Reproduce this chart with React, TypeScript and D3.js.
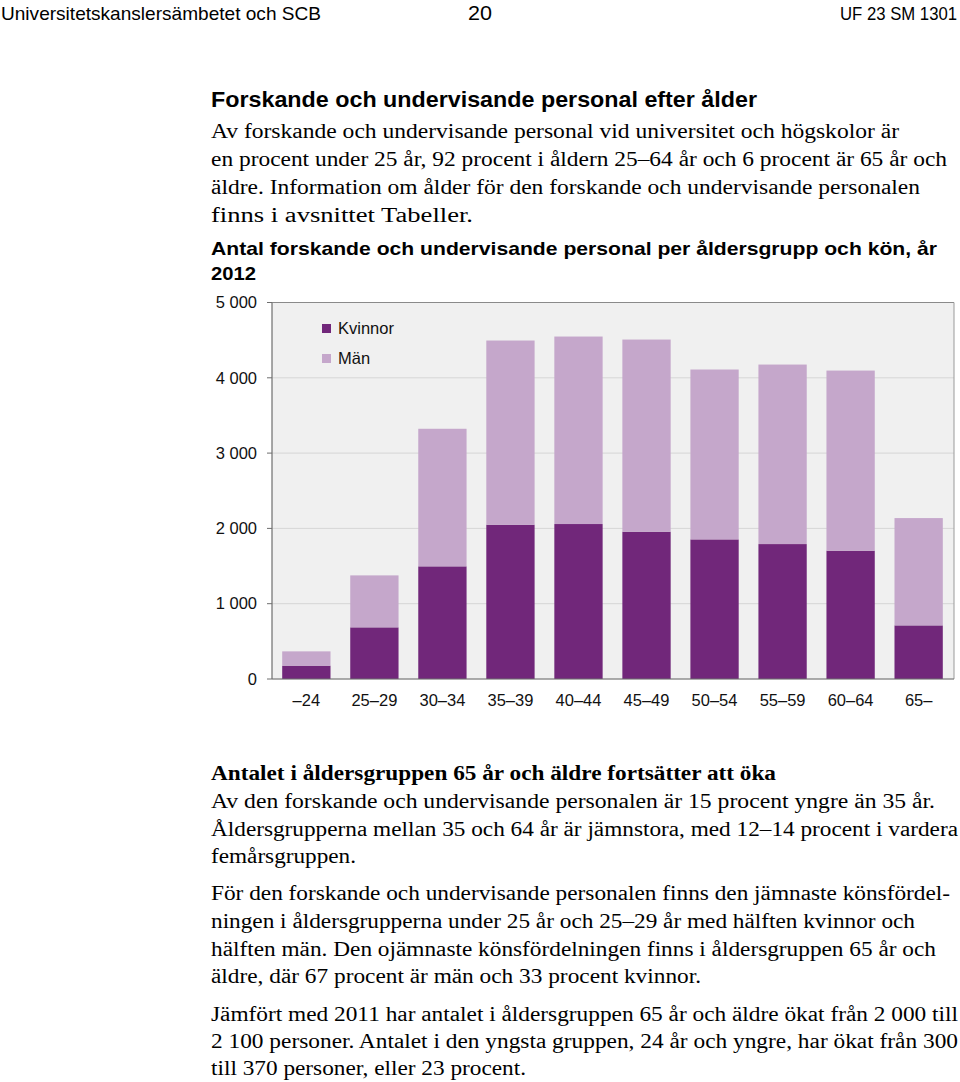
import React from "react";
import * as d3 from "d3";

const categories = ["–24", "25–29", "30–34", "35–39", "40–44", "45–49", "50–54", "55–59", "60–64", "65–"];
const kvinnor = [177, 686, 1496, 2049, 2058, 1956, 1854, 1792, 1704, 712];
const man = [190, 690, 1827, 2446, 2490, 2552, 2256, 2384, 2392, 1425];
const yTicks = [0, 1000, 2000, 3000, 4000, 5000];
const seriesNames = ["Kvinnor", "Män"];
const seriesColors = ["#71277a", "#c5a7cb"];

const W = 960;
const H = 1082;
const plot = { left: 272, right: 954, top: 302.5, bottom: 679 };

const serif = "'Liberation Serif', 'Times New Roman', serif";
const sans = "'Liberation Sans', Arial, sans-serif";

type Line = { t: string; y: number; w?: number };

const topBody: Line[] = [
  { t: "Av forskande och undervisande personal vid universitet och högskolor är", y: 138, w: 688 },
  { t: "en procent under 25 år, 92 procent i åldern 25–64 år och 6 procent är 65 år och", y: 166, w: 736 },
  { t: "äldre. Information om ålder för den forskande och undervisande personalen", y: 194, w: 709 },
  { t: "finns i avsnittet Tabeller.", y: 222, w: 262 },
];

const lowerBody: Line[] = [
  { t: "Av den forskande och undervisande personalen är 15 procent yngre än 35 år.", y: 808, w: 724 },
  { t: "Åldersgrupperna mellan 35 och 64 år är jämnstora, med 12–14 procent i vardera", y: 836, w: 747 },
  { t: "femårsgruppen.", y: 863, w: 145 },
  { t: "För den forskande och undervisande personalen finns den jämnaste könsfördel-", y: 900, w: 739 },
  { t: "ningen i åldersgrupperna under 25 år och 25–29 år med hälften kvinnor och", y: 928, w: 704 },
  { t: "hälften män. Den ojämnaste könsfördelningen finns i åldersgruppen 65 år och", y: 956, w: 725 },
  { t: "äldre, där 67 procent är män och 33 procent kvinnor.", y: 983, w: 490 },
  { t: "Jämfört med 2011 har antalet i åldersgruppen 65 år och äldre ökat från 2 000 till", y: 1021, w: 747 },
  { t: "2 100 personer. Antalet i den yngsta gruppen, 24 år och yngre, har ökat från 300", y: 1048, w: 747 },
  { t: "till 370 personer, eller 23 procent.", y: 1075, w: 315 },
];

export default function App() {
  const x = d3
    .scaleBand<string>()
    .domain(categories)
    .range([plot.left, 953])
    .paddingInner(0.29)
    .paddingOuter(0.15);
  const y = d3.scaleLinear().domain([0, 5000]).range([plot.bottom, plot.top]);

  const rows = categories.map((c, i) => ({ cat: c, Kvinnor: kvinnor[i], Män: man[i] }));
  const stacked = d3.stack<any>().keys(seriesNames)(rows);

  const fmt = (v: number) => d3.format(",")(v).replace(/,/g, " ");

  return (
    <svg
      width={W}
      height={H}
      viewBox={`0 0 ${W} ${H}`}
      style={{ position: "absolute", left: 0, top: 0, background: "#fff" }}
    >
      <rect x={0} y={0} width={W} height={H} fill="#fff" />
      {/* Header */}
      <g fontFamily={sans} fill="#000">
        <text x={1} y={20} fontSize={19} textLength={320} lengthAdjust="spacingAndGlyphs">
          Universitetskanslersämbetet och SCB
        </text>
        <text x={468} y={20} fontSize={21} textLength={24} lengthAdjust="spacingAndGlyphs">
          20
        </text>
        <text transform="translate(957,20) scale(0.88,1)" x={0} y={0} textAnchor="end" fontSize={19}>
          UF 23 SM 1301
        </text>
      </g>

      {/* Section title */}
      <text x={211} y={107} fontFamily={sans} fontWeight="bold" fontSize={21.5} textLength={546} lengthAdjust="spacingAndGlyphs">
        Forskande och undervisande personal efter ålder
      </text>
      <g fontFamily={serif} fontSize={20.5} fill="#000">
        {topBody.map((l, i) => (
          <text key={i} x={211} y={l.y} textLength={l.w} lengthAdjust="spacingAndGlyphs">
            {l.t}
          </text>
        ))}
      </g>

      {/* Chart title */}
      <g fontFamily={sans} fontWeight="bold" fontSize={19}>
        <text x={211} y={255} textLength={726} lengthAdjust="spacingAndGlyphs">
          Antal forskande och undervisande personal per åldersgrupp och kön, år
        </text>
        <text x={211} y={280} textLength={45} lengthAdjust="spacingAndGlyphs">
          2012
        </text>
      </g>

      {/* Plot background */}
      <rect x={plot.left} y={plot.top} width={plot.right - plot.left} height={plot.bottom - plot.top} fill="#f0f0f0" />
      {/* Gridlines */}
      {yTicks.map((t) => (
        <line
          key={"g" + t}
          x1={plot.left}
          x2={plot.right}
          y1={y(t)}
          y2={y(t)}
          stroke={t === 5000 ? "#8a8a8a" : "#d6d6d6"}
          strokeWidth={1}
        />
      ))}
      {/* Bars */}
      {stacked.map((s, si) => (
        <g key={s.key} fill={seriesColors[si]}>
          {s.map((d: any, i: number) => (
            <rect
              key={i}
              x={x(categories[i])}
              y={y(d[1])}
              width={x.bandwidth()}
              height={y(d[0]) - y(d[1])}
            />
          ))}
        </g>
      ))}
      {/* Axes */}
      <line x1={plot.left} x2={plot.left} y1={plot.top} y2={plot.bottom} stroke="#6e6e6e" strokeWidth={1.2} />
      <line x1={plot.right} x2={plot.right} y1={plot.top} y2={plot.bottom} stroke="#9a9a9a" strokeWidth={1} />
      <line x1={plot.left} x2={plot.right} y1={plot.bottom} y2={plot.bottom} stroke="#6e6e6e" strokeWidth={1.2} />
      {yTicks.map((t) => (
        <g key={"t" + t}>
          <line x1={plot.left - 5} x2={plot.left} y1={y(t)} y2={y(t)} stroke="#6e6e6e" strokeWidth={1} />
          <text
            x={257}
            y={y(t)}
            dy="0.35em"
            textAnchor="end"
            fontFamily={sans}
            fontSize={16.5}
            fill="#111"
          >
            {fmt(t)}
          </text>
        </g>
      ))}
      {categories.map((c) => (
        <text
          key={c}
          x={(x(c) as number) + x.bandwidth() / 2}
          y={706}
          textAnchor="middle"
          fontFamily={sans}
          fontSize={16.5}
          fill="#111"
        >
          {c}
        </text>
      ))}
      {/* Legend */}
      {seriesNames.map((n, i) => (
        <g key={n} transform={`translate(322, ${324 + i * 30})`}>
          <rect x={0} y={0} width={9} height={9} fill={seriesColors[i]} />
          <text x={16} y={4.5} dy="0.35em" fontFamily={sans} fontSize={16.5} fill="#111">
            {n}
          </text>
        </g>
      ))}

      {/* Lower text */}
      <text x={211} y={780} fontFamily={serif} fontWeight="bold" fontSize={20.5} textLength={565} lengthAdjust="spacingAndGlyphs">
        Antalet i åldersgruppen 65 år och äldre fortsätter att öka
      </text>
      <g fontFamily={serif} fontSize={20.5} fill="#000">
        {lowerBody.map((l, i) => (
          <text key={i} x={211} y={l.y} textLength={l.w} lengthAdjust="spacingAndGlyphs">
            {l.t}
          </text>
        ))}
      </g>
    </svg>
  );
}
